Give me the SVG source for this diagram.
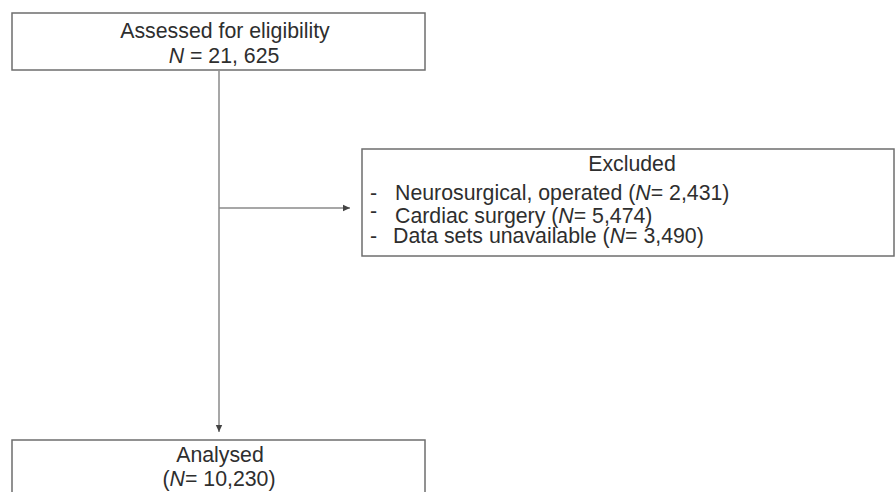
<svg xmlns="http://www.w3.org/2000/svg" width="896" height="492" viewBox="0 0 896 492">
<defs>
<marker id="arr" markerWidth="8" markerHeight="8" refX="7" refY="4" orient="auto" markerUnits="userSpaceOnUse">
<path d="M0,0.8 L7,4 L0,7.2 Z" fill="#444"/>
</marker>
<style>
.box{fill:#fff;stroke:#6e6e6e;stroke-width:1.5}
.t{font-family:"Liberation Sans",Arial,sans-serif;font-size:21.3px;fill:#2e2e2e}
.c{text-anchor:middle}
.ln{fill:none;stroke:#8a8a8a;stroke-width:1.5}
</style>
</defs>
<rect width="896" height="492" fill="#fff"/>
<g id="connectors">
<line class="ln" x1="219" y1="71" x2="219" y2="432" marker-end="url(#arr)"/>
<line class="ln" x1="219" y1="208" x2="350" y2="208" marker-end="url(#arr)"/>
</g>
<g id="assessed">
<rect class="box" x="12" y="13" width="413" height="57"/>
<text class="t c" x="225" y="38">Assessed for eligibility</text>
<text class="t c" x="224" y="63"><tspan font-style="italic">N</tspan> = 21, 625</text>
</g>
<g id="excluded">
<rect class="box" x="362" y="149" width="532" height="107"/>
<text class="t c" x="632" y="171">Excluded</text>
<text class="t" x="370" y="200">-</text>
<text class="t" x="395" y="200">Neurosurgical, operated (<tspan font-style="italic">N</tspan>= 2,431)</text>
<text class="t" x="370" y="218">-</text>
<text class="t" x="395" y="223">Cardiac surgery (<tspan font-style="italic">N</tspan>= 5,474)</text>
<text class="t" x="370" y="243">-</text>
<text class="t" x="393" y="243">Data sets unavailable (<tspan font-style="italic">N</tspan>= 3,490)</text>
</g>
<g id="analysed">
<rect class="box" x="12" y="440" width="413" height="70"/>
<text class="t c" x="220" y="462">Analysed</text>
<text class="t c" x="219" y="486">(<tspan font-style="italic">N</tspan>= 10,230)</text>
</g>
</svg>
